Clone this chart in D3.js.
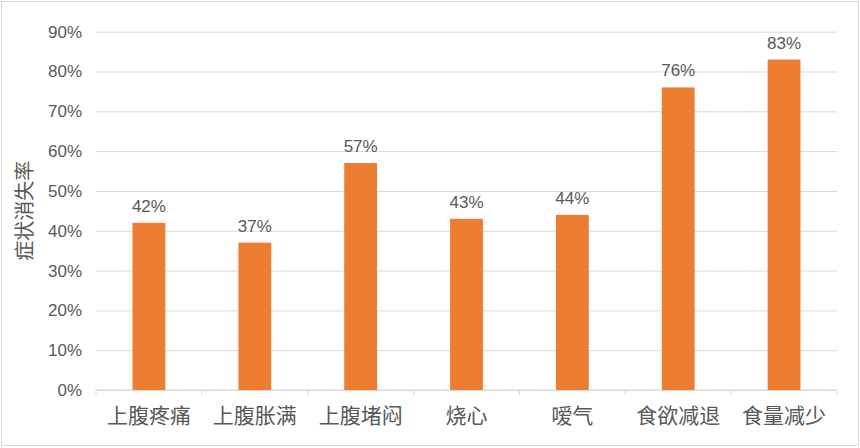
<!DOCTYPE html>
<html>
<head>
<meta charset="utf-8">
<script src="https://cdn.jsdelivr.net/npm/d3@7/dist/d3.min.js"></script>
<style>
  body { margin: 0; background: #fff; }
  text { font-family: "Liberation Sans", "Noto Sans CJK SC", sans-serif; }
</style>
</head>
<body>
<svg id="chart" width="860" height="448"></svg>
<script>
// chart data
const categories = ['上腹疼痛', '上腹胀满', '上腹堵闷', '烧心', '嗳气', '食欲减退', '食量减少']
const values = [42, 37, 57, 43, 44, 76, 83]
const yTicks = [0, 10, 20, 30, 40, 50, 60, 70, 80, 90]
const yTitle = '症状消失率'

const svg = d3.select('#chart')
const width = 860
const height = 448
const margin = { top: 31.7, right: 23, bottom: 58, left: 96 }

// light frame round the whole picture
svg.append('rect')
    .attr('x', 1.5).attr('y', 1.5)
    .attr('width', width - 3).attr('height', height - 4)
    .attr('fill', '#fff')
    .attr('stroke', '#d9d9d9')

const x = d3.scaleBand()
    .domain(categories)
    .range([margin.left, width - margin.right])
    .paddingInner(0.69)
    .paddingOuter(0.345)

const y = d3.scaleLinear()
    .domain([0, 90])
    .range([height - margin.bottom, margin.top])

// grid + y labels
const yAxis = d3.axisLeft(y)
    .tickValues(yTicks)
    .tickSize(-(width - margin.left - margin.right))
    .tickPadding(14)
    .tickFormat(d => d + '%')

svg.append('g')
    .attr('transform', `translate(${margin.left},0)`)
    .call(yAxis)
    .call(g => g.select('.domain').remove())
    .call(g => g.selectAll('line').attr('stroke', '#d9d9d9'))
    .call(g => g.selectAll('text')
        .attr('fill', '#595959')
        .attr('font-size', 17))

// category axis, ticks between the bands
const band = x.step()
const boundaries = d3.range(categories.length + 1).map(i => margin.left + i * band)

const xg = svg.append('g')
xg.append('line')
    .attr('x1', margin.left).attr('x2', width - margin.right)
    .attr('y1', y(0)).attr('y2', y(0))
    .attr('stroke', '#d9d9d9')
xg.selectAll('.tick-mark')
    .data(boundaries)
    .join('line')
    .attr('x1', d => d).attr('x2', d => d)
    .attr('y1', y(0)).attr('y2', y(0) + 5)
    .attr('stroke', '#d9d9d9')
xg.selectAll('.cat')
    .data(categories)
    .join('text')
    .attr('x', d => x(d) + x.bandwidth() / 2)
    .attr('y', y(0) + 33)
    .attr('text-anchor', 'middle')
    .attr('fill', '#595959')
    .attr('font-size', 21)
    .text(d => d)

// bars
svg.selectAll('.bar')
    .data(values)
    .join('rect')
    .attr('x', (d, i) => x(categories[i]))
    .attr('y', d => y(d))
    .attr('width', x.bandwidth())
    .attr('height', d => y(0) - y(d))
    .attr('fill', '#ed7d31')

// value labels
svg.selectAll('.lbl')
    .data(values)
    .join('text')
    .attr('x', (d, i) => x(categories[i]) + x.bandwidth() / 2)
    .attr('y', d => y(d) - 11)
    .attr('text-anchor', 'middle')
    .attr('fill', '#595959')
    .attr('font-size', 17)
    .text(d => d + '%')

// y title
svg.append('text')
    .attr('transform', `translate(32, ${(y(0) + y(90)) / 2}) rotate(-90)`)
    .attr('text-anchor', 'middle')
    .attr('fill', '#595959')
    .attr('font-size', 20)
    .text(yTitle)
</script>
</body>
</html>
